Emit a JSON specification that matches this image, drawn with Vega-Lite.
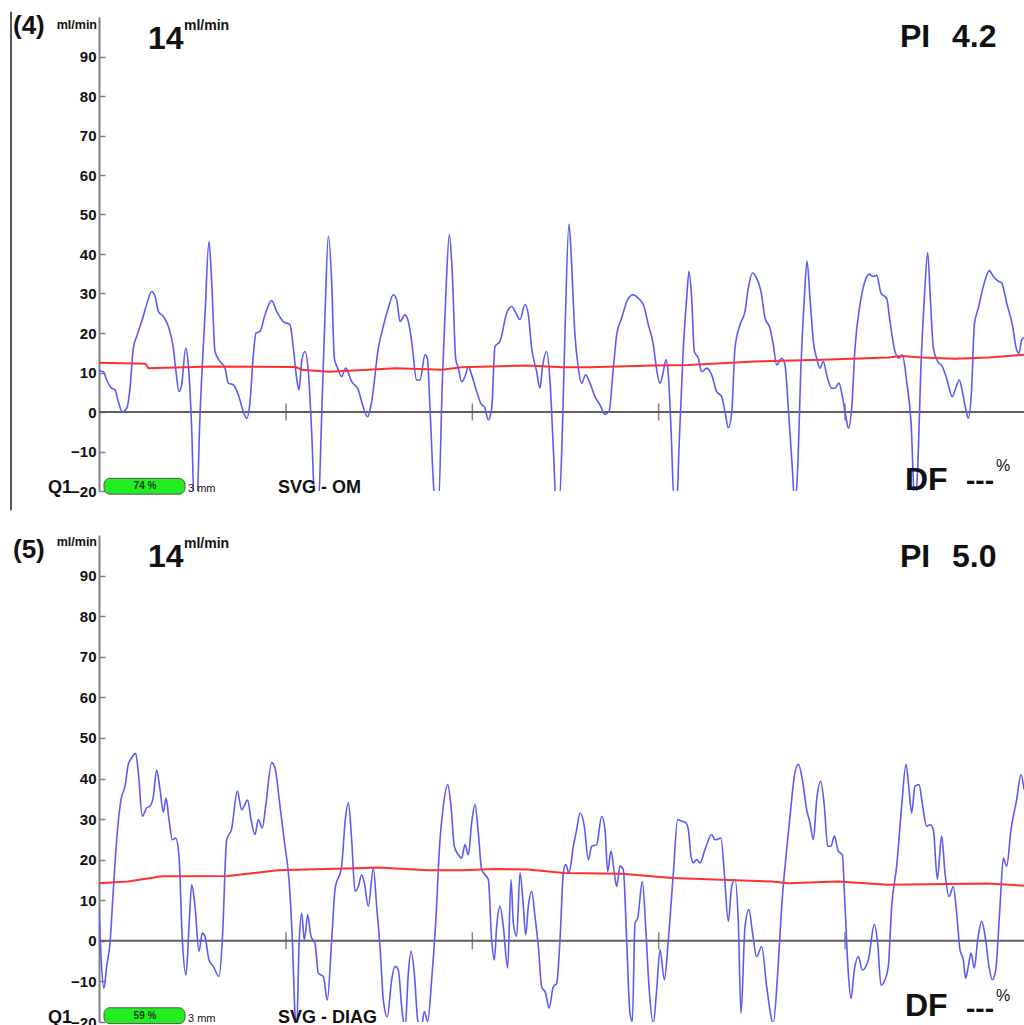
{
"$schema":"https://vega.github.io/schema/vega-lite/v6.json",
"padding":{"left":10,"top":11,"right":0,"bottom":0},
"spacing":23,
"config":{"view":{"stroke":null},"font":"Liberation Sans, Arial, sans-serif",
"axisY":{"domainColor":"#808080","domainWidth":2,"tickColor":"#808080","tickWidth":1.5,"tickSize":-6,"labelPadding":9,"labelFontSize":15,"labelFontWeight":"bold","labelColor":"#111111","grid":false,"labelFont":"Liberation Sans, Arial, sans-serif"}},
"datasets":{
"blue4":[{"t":0,"v":10.6},{"t":3,"v":10.4},{"t":13,"v":10.2},{"t":23,"v":8.1},{"t":38,"v":6.0},{"t":48,"v":5.6},{"t":58,"v":2.6},{"t":70,"v":0},{"t":83,"v":0.9},{"t":93,"v":6},{"t":103,"v":16.2},{"t":113,"v":19.1},{"t":128,"v":22.9},{"t":143,"v":27.2},{"t":158,"v":30.5},{"t":168,"v":29.3},{"t":178,"v":25.5},{"t":193,"v":24.2},{"t":208,"v":21.7},{"t":223,"v":16.2},{"t":231,"v":10.2},{"t":240,"v":5.2},{"t":248,"v":6.9},{"t":260,"v":16.2},{"t":268,"v":11.9},{"t":278,"v":-4.1},{"t":286,"v":-24},{"t":293,"v":-24},{"t":303,"v":-0.8},{"t":318,"v":24.6},{"t":330,"v":43.2},{"t":338,"v":33},{"t":348,"v":15.3},{"t":363,"v":12.8},{"t":378,"v":11.1},{"t":388,"v":7.3},{"t":403,"v":6.9},{"t":418,"v":4.3},{"t":433,"v":0.1},{"t":443,"v":-1.6},{"t":453,"v":2.6},{"t":463,"v":14.5},{"t":471,"v":20},{"t":483,"v":20.4},{"t":498,"v":24.6},{"t":518,"v":28.2},{"t":533,"v":25.5},{"t":553,"v":22.9},{"t":573,"v":22.1},{"t":583,"v":16.2},{"t":593,"v":8.5},{"t":600,"v":5.6},{"t":608,"v":12.8},{"t":618,"v":15.3},{"t":628,"v":10.2},{"t":638,"v":-5},{"t":648,"v":-24},{"t":658,"v":-24},{"t":668,"v":-0.8},{"t":678,"v":24.6},{"t":688,"v":44.5},{"t":698,"v":33},{"t":706,"v":13.6},{"t":716,"v":11.1},{"t":728,"v":9},{"t":740,"v":11.1},{"t":758,"v":7.7},{"t":778,"v":5.6},{"t":788,"v":2.6},{"t":806,"v":-1.2},{"t":818,"v":2.6},{"t":838,"v":16.2},{"t":853,"v":21.7},{"t":868,"v":26.3},{"t":883,"v":29.7},{"t":893,"v":28.4},{"t":903,"v":22.9},{"t":918,"v":24.6},{"t":928,"v":22.9},{"t":938,"v":17.9},{"t":953,"v":8.1},{"t":963,"v":8.1},{"t":978,"v":14.5},{"t":985,"v":13.6},{"t":993,"v":0.9},{"t":1003,"v":-17.7},{"t":1008,"v":-24},{"t":1018,"v":-24},{"t":1030,"v":7.7},{"t":1040,"v":28.8},{"t":1051,"v":44.9},{"t":1060,"v":34.8},{"t":1070,"v":13.6},{"t":1078,"v":11.1},{"t":1088,"v":7.7},{"t":1098,"v":9},{"t":1108,"v":11.5},{"t":1118,"v":9.4},{"t":1133,"v":5.2},{"t":1148,"v":1.8},{"t":1156,"v":1.4},{"t":1168,"v":-2},{"t":1178,"v":0.9},{"t":1188,"v":16.6},{"t":1203,"v":17.9},{"t":1223,"v":25},{"t":1238,"v":26.7},{"t":1248,"v":25.5},{"t":1263,"v":23.4},{"t":1278,"v":27.2},{"t":1288,"v":24.6},{"t":1298,"v":16.2},{"t":1313,"v":10.2},{"t":1323,"v":6},{"t":1330,"v":11.1},{"t":1343,"v":15.3},{"t":1353,"v":7.7},{"t":1363,"v":-9.2},{"t":1372,"v":-24},{"t":1380,"v":-24},{"t":1390,"v":-5},{"t":1398,"v":20.4},{"t":1410,"v":47.6},{"t":1418,"v":37.3},{"t":1426,"v":22.1},{"t":1438,"v":11.1},{"t":1448,"v":7.3},{"t":1460,"v":9.4},{"t":1473,"v":7.3},{"t":1488,"v":3.9},{"t":1503,"v":1.8},{"t":1518,"v":-0.6},{"t":1530,"v":0.1},{"t":1543,"v":11.1},{"t":1553,"v":19.5},{"t":1568,"v":23.8},{"t":1588,"v":28.8},{"t":1603,"v":29.7},{"t":1618,"v":28.8},{"t":1633,"v":27.2},{"t":1648,"v":22.1},{"t":1663,"v":17},{"t":1671,"v":11.9},{"t":1683,"v":7.3},{"t":1691,"v":9.4},{"t":1701,"v":13.2},{"t":1708,"v":9.4},{"t":1716,"v":-4.1},{"t":1726,"v":-24},{"t":1733,"v":-24},{"t":1740,"v":-9.2},{"t":1753,"v":16.2},{"t":1763,"v":28.8},{"t":1770,"v":35.6},{"t":1778,"v":28.8},{"t":1786,"v":15.3},{"t":1798,"v":13.6},{"t":1808,"v":10.2},{"t":1823,"v":11.1},{"t":1838,"v":9.4},{"t":1853,"v":5.2},{"t":1868,"v":3.9},{"t":1878,"v":0.1},{"t":1888,"v":-4},{"t":1898,"v":-0.3},{"t":1908,"v":16.2},{"t":1923,"v":22.1},{"t":1938,"v":25.5},{"t":1948,"v":31.4},{"t":1960,"v":35.2},{"t":1973,"v":33.9},{"t":1986,"v":30.5},{"t":1998,"v":23.8},{"t":2013,"v":21.2},{"t":2023,"v":17},{"t":2033,"v":11.9},{"t":2048,"v":13.6},{"t":2058,"v":11.9},{"t":2068,"v":0.9},{"t":2080,"v":-14.3},{"t":2088,"v":-24},{"t":2096,"v":-14.3},{"t":2106,"v":11.9},{"t":2116,"v":28.8},{"t":2124,"v":38.2},{"t":2133,"v":28.8},{"t":2143,"v":17.9},{"t":2153,"v":13.6},{"t":2163,"v":11.1},{"t":2173,"v":12.8},{"t":2183,"v":9.4},{"t":2198,"v":6},{"t":2208,"v":6},{"t":2220,"v":7.3},{"t":2230,"v":3.9},{"t":2240,"v":-0.8},{"t":2248,"v":-4.1},{"t":2258,"v":0.9},{"t":2268,"v":16.2},{"t":2283,"v":27.2},{"t":2298,"v":33.1},{"t":2310,"v":34.9},{"t":2323,"v":34.3},{"t":2333,"v":34.6},{"t":2346,"v":30.1},{"t":2363,"v":28.8},{"t":2373,"v":22.9},{"t":2388,"v":15.3},{"t":2400,"v":13.6},{"t":2410,"v":14.5},{"t":2423,"v":7.7},{"t":2436,"v":-2.5},{"t":2448,"v":-24},{"t":2456,"v":-14.3},{"t":2466,"v":11.9},{"t":2476,"v":28.8},{"t":2486,"v":40.3},{"t":2494,"v":28.8},{"t":2503,"v":16.2},{"t":2516,"v":12.8},{"t":2530,"v":11.5},{"t":2543,"v":8.5},{"t":2560,"v":3.9},{"t":2570,"v":6},{"t":2581,"v":8.1},{"t":2590,"v":5.2},{"t":2600,"v":0.9},{"t":2608,"v":-1.6},{"t":2618,"v":6},{"t":2626,"v":22.1},{"t":2638,"v":26.3},{"t":2653,"v":31.8},{"t":2671,"v":35.8},{"t":2683,"v":34.3},{"t":2698,"v":33.1},{"t":2708,"v":32.7},{"t":2723,"v":27.6},{"t":2740,"v":22.1},{"t":2753,"v":15.7},{"t":2760,"v":14.9},{"t":2768,"v":18.3},{"t":2775,"v":18.9}],
"red4":[{"t":0,"v":12.5},{"t":140,"v":12.2},{"t":148,"v":11.1},{"t":340,"v":11.5},{"t":590,"v":11.4},{"t":608,"v":10.7},{"t":690,"v":10.2},{"t":808,"v":10.7},{"t":888,"v":11.1},{"t":1028,"v":10.7},{"t":1088,"v":11.3},{"t":1288,"v":11.8},{"t":1388,"v":11.3},{"t":1468,"v":11.3},{"t":1668,"v":11.8},{"t":1768,"v":11.9},{"t":1968,"v":12.8},{"t":2168,"v":13.2},{"t":2368,"v":13.8},{"t":2408,"v":14.2},{"t":2468,"v":13.8},{"t":2568,"v":13.5},{"t":2668,"v":13.8},{"t":2775,"v":14.5}],
"blue5":[{"t":0,"v":8},{"t":6,"v":-3.9},{"t":15,"v":-11.7},{"t":23,"v":-6.3},{"t":33,"v":-0.6},{"t":43,"v":12.6},{"t":53,"v":24.9},{"t":66,"v":34.8},{"t":78,"v":38.1},{"t":88,"v":43.5},{"t":98,"v":45.1},{"t":110,"v":46.2},{"t":118,"v":41.4},{"t":130,"v":30.7},{"t":143,"v":32.8},{"t":153,"v":33.2},{"t":163,"v":35.6},{"t":173,"v":42.1},{"t":183,"v":37.3},{"t":193,"v":31.7},{"t":201,"v":35.2},{"t":210,"v":29.9},{"t":220,"v":24.9},{"t":230,"v":25.3},{"t":240,"v":20.8},{"t":250,"v":0.2},{"t":261,"v":-8.4},{"t":270,"v":3.5},{"t":278,"v":13.8},{"t":288,"v":8.5},{"t":300,"v":-2.6},{"t":310,"v":1.9},{"t":318,"v":1.1},{"t":330,"v":-4.7},{"t":343,"v":-6.3},{"t":360,"v":-8.8},{"t":370,"v":0.2},{"t":383,"v":24.9},{"t":398,"v":27.6},{"t":415,"v":36.9},{"t":428,"v":32.3},{"t":446,"v":34.7},{"t":456,"v":29.9},{"t":468,"v":26.2},{"t":478,"v":29.9},{"t":490,"v":27.8},{"t":500,"v":33.2},{"t":518,"v":43.9},{"t":528,"v":42.6},{"t":543,"v":33.2},{"t":558,"v":23.3},{"t":570,"v":15.1},{"t":580,"v":0.2},{"t":588,"v":-17.9},{"t":593,"v":-22},{"t":600,"v":-1.4},{"t":608,"v":6.8},{"t":616,"v":0.2},{"t":626,"v":6.4},{"t":636,"v":1.1},{"t":648,"v":-0.6},{"t":658,"v":-8},{"t":673,"v":-8.8},{"t":685,"v":-14.6},{"t":698,"v":0.2},{"t":708,"v":12.6},{"t":728,"v":18.4},{"t":738,"v":29.1},{"t":748,"v":34},{"t":758,"v":24.9},{"t":768,"v":12.2},{"t":778,"v":13.4},{"t":788,"v":16.3},{"t":796,"v":14.2},{"t":808,"v":8.5},{"t":823,"v":17.9},{"t":833,"v":8.5},{"t":843,"v":-1.4},{"t":853,"v":-14.6},{"t":865,"v":-18.7},{"t":878,"v":-9.6},{"t":888,"v":-6.3},{"t":898,"v":-7.2},{"t":908,"v":-16.2},{"t":918,"v":-22},{"t":928,"v":-8},{"t":936,"v":-2.6},{"t":946,"v":-8},{"t":956,"v":-19.5},{"t":966,"v":-22},{"t":976,"v":-17.4},{"t":986,"v":-19.9},{"t":998,"v":-9.6},{"t":1010,"v":4.4},{"t":1023,"v":24.9},{"t":1033,"v":33.2},{"t":1046,"v":38.5},{"t":1056,"v":33.2},{"t":1066,"v":23.3},{"t":1078,"v":21.2},{"t":1088,"v":20.4},{"t":1098,"v":23.7},{"t":1108,"v":21.2},{"t":1118,"v":29.1},{"t":1128,"v":33.6},{"t":1138,"v":26.6},{"t":1148,"v":17.5},{"t":1158,"v":16.3},{"t":1168,"v":15.1},{"t":1178,"v":0.2},{"t":1186,"v":-4.7},{"t":1193,"v":3.5},{"t":1203,"v":8.5},{"t":1213,"v":3.5},{"t":1226,"v":-6.7},{"t":1236,"v":15.1},{"t":1243,"v":4.4},{"t":1253,"v":1.1},{"t":1263,"v":16.7},{"t":1273,"v":8.5},{"t":1280,"v":1.5},{"t":1288,"v":8.5},{"t":1298,"v":12.2},{"t":1308,"v":6},{"t":1318,"v":-1.4},{"t":1328,"v":-11.3},{"t":1340,"v":-12.9},{"t":1350,"v":-16.6},{"t":1363,"v":-11.3},{"t":1373,"v":-10.5},{"t":1383,"v":0.2},{"t":1393,"v":16.7},{"t":1400,"v":18.8},{"t":1410,"v":16.7},{"t":1423,"v":23.3},{"t":1433,"v":27.4},{"t":1443,"v":31.5},{"t":1456,"v":28.2},{"t":1468,"v":20},{"t":1478,"v":23.3},{"t":1493,"v":23.7},{"t":1508,"v":30.7},{"t":1518,"v":27.4},{"t":1526,"v":17.1},{"t":1536,"v":22.1},{"t":1546,"v":16.7},{"t":1553,"v":13.4},{"t":1563,"v":18.4},{"t":1573,"v":17.5},{"t":1583,"v":0.2},{"t":1593,"v":-17.9},{"t":1600,"v":-19.9},{"t":1608,"v":4.4},{"t":1616,"v":5.6},{"t":1630,"v":14.6},{"t":1640,"v":3.5},{"t":1650,"v":-11.3},{"t":1663,"v":-20.3},{"t":1673,"v":-12.1},{"t":1683,"v":-2.2},{"t":1696,"v":-9.6},{"t":1708,"v":0.2},{"t":1723,"v":16.7},{"t":1736,"v":29.9},{"t":1748,"v":29.5},{"t":1760,"v":29.1},{"t":1768,"v":27.4},{"t":1776,"v":20.8},{"t":1783,"v":19.2},{"t":1793,"v":20},{"t":1803,"v":19.2},{"t":1818,"v":22.5},{"t":1838,"v":26.2},{"t":1848,"v":24.9},{"t":1866,"v":25.3},{"t":1876,"v":16.7},{"t":1888,"v":4.8},{"t":1898,"v":13.4},{"t":1908,"v":15.1},{"t":1918,"v":4.4},{"t":1926,"v":-17.9},{"t":1938,"v":3.5},{"t":1950,"v":7.7},{"t":1960,"v":2.3},{"t":1973,"v":-3.9},{"t":1988,"v":-1.4},{"t":2003,"v":-11.3},{"t":2023,"v":-20.3},{"t":2036,"v":-8},{"t":2048,"v":8.5},{"t":2063,"v":22.5},{"t":2076,"v":33.2},{"t":2086,"v":40.6},{"t":2098,"v":43.5},{"t":2110,"v":39.8},{"t":2123,"v":32.3},{"t":2133,"v":29.1},{"t":2143,"v":24.9},{"t":2153,"v":34.8},{"t":2165,"v":39.3},{"t":2176,"v":33.2},{"t":2186,"v":23.3},{"t":2196,"v":23.3},{"t":2206,"v":25.8},{"t":2218,"v":22.1},{"t":2230,"v":21.2},{"t":2238,"v":8.5},{"t":2248,"v":-8},{"t":2256,"v":-14.2},{"t":2266,"v":-7.2},{"t":2278,"v":-3.9},{"t":2290,"v":-7.2},{"t":2308,"v":-4.7},{"t":2326,"v":4},{"t":2336,"v":-0.6},{"t":2346,"v":-10.9},{"t":2358,"v":-9.6},{"t":2368,"v":-6.3},{"t":2378,"v":8.5},{"t":2393,"v":18.4},{"t":2408,"v":33.2},{"t":2421,"v":43.5},{"t":2430,"v":37.3},{"t":2438,"v":31.5},{"t":2448,"v":38.1},{"t":2460,"v":38.5},{"t":2471,"v":33.2},{"t":2483,"v":28.2},{"t":2493,"v":28.6},{"t":2503,"v":27.4},{"t":2515,"v":15.2},{"t":2528,"v":25.8},{"t":2538,"v":16.7},{"t":2550,"v":10.9},{"t":2563,"v":13.4},{"t":2573,"v":6.8},{"t":2583,"v":-2.2},{"t":2593,"v":-4.7},{"t":2600,"v":-9.2},{"t":2608,"v":-6.3},{"t":2616,"v":-3},{"t":2626,"v":-6.7},{"t":2636,"v":0.2},{"t":2648,"v":4.8},{"t":2660,"v":0.2},{"t":2670,"v":-6.3},{"t":2680,"v":-9.6},{"t":2690,"v":-7.2},{"t":2703,"v":8.5},{"t":2713,"v":20.4},{"t":2723,"v":18.4},{"t":2736,"v":27.4},{"t":2753,"v":34.8},{"t":2766,"v":41},{"t":2775,"v":37.3}],
"red5":[{"t":0,"v":14.2},{"t":87,"v":14.6},{"t":189,"v":15.9},{"t":387,"v":16},{"t":537,"v":17.4},{"t":768,"v":17.9},{"t":837,"v":18.1},{"t":987,"v":17.4},{"t":1089,"v":17.4},{"t":1188,"v":17.7},{"t":1287,"v":17.6},{"t":1395,"v":16.7},{"t":1569,"v":16.5},{"t":1719,"v":15.5},{"t":2019,"v":14.6},{"t":2067,"v":14.2},{"t":2217,"v":14.6},{"t":2367,"v":13.8},{"t":2667,"v":14.1},{"t":2775,"v":13.6}],
"ticks":[{"t":561,"v":0},{"t":1120,"v":0},{"t":1679,"v":0},{"t":2238,"v":0}],
"zero":[{"v":0}],
"frame4":[{"t":-264,"v":101.3,"v2":-24.9}],
"box4":[{"t":15,"t2":258,"v":-16.8,"v2":-20.8}],
"box5":[{"t":15,"t2":258,"v":-16.5,"v2":-20.4}],
"lab4":[{"kind":"paren","label":"(4)","t":-258,"v":95.7},{"kind":"unit","label":"ml/min","t":-6,"v":97},{"kind":"big","label":"14","t":147,"v":91.9},{"kind":"sup","label":"ml/min","t":255,"v":96.7},{"kind":"big","label":"PI","t":2403,"v":92.4},{"kind":"big","label":"4.2","t":2559,"v":92.4},{"kind":"q","label":"Q1","t":-153,"v":-20.6},{"kind":"badge","label":"74 %","t":138,"v":-18.8},{"kind":"mm","label":"3 mm","t":267,"v":-20.3},{"kind":"name","label":"SVG - OM","t":537,"v":-20.6},{"kind":"big","label":"DF","t":2418,"v":-19.8},{"kind":"dash","label":"---","t":2601,"v":-19.8},{"kind":"pct","label":"%","t":2691,"v":-15}],
"lab5":[{"kind":"paren","label":"(5)","t":-258,"v":94.3},{"kind":"unit","label":"ml/min","t":-6,"v":97.3},{"kind":"big","label":"14","t":147,"v":92.1},{"kind":"sup","label":"ml/min","t":255,"v":96.8},{"kind":"big","label":"PI","t":2403,"v":92.1},{"kind":"big","label":"5.0","t":2559,"v":92.1},{"kind":"q","label":"Q1","t":-153,"v":-20.2},{"kind":"badge","label":"59 %","t":138,"v":-18.5},{"kind":"mm","label":"3 mm","t":267,"v":-20},{"kind":"name","label":"SVG - DIAG","t":537,"v":-20.2},{"kind":"big","label":"DF","t":2418,"v":-18.5},{"kind":"dash","label":"---","t":2601,"v":-19},{"kind":"pct","label":"%","t":2691,"v":-14.8}]
},
"vconcat":[
{"width":925,"height":474,
"layer":[
{"data":{"name":"frame4"},"mark":{"type":"rule","color":"#222222","strokeWidth":1.5},"encoding":{"x":{"field":"t","type":"quantitative","scale":{"domain":[0,2775]},"axis":null},"y":{"field":"v","type":"quantitative","title":null,"scale":{"domain":[-20,100]},"axis":{"values":[-20,-10,0,10,20,30,40,50,60,70,80,90]}},"y2":{"field":"v2"}}},
{"data":{"name":"zero"},"mark":{"type":"rule","color":"#606060","strokeWidth":2},"encoding":{"y":{"field":"v","type":"quantitative","title":null,"scale":{"domain":[-20,100]},"axis":{"values":[-20,-10,0,10,20,30,40,50,60,70,80,90]}}}},
{"data":{"name":"ticks"},"mark":{"type":"tick","orient":"vertical","color":"#505050","size":17,"thickness":1.5},"encoding":{"x":{"field":"t","type":"quantitative","scale":{"domain":[0,2775]},"axis":null},"y":{"field":"v","type":"quantitative","title":null,"scale":{"domain":[-20,100]}}}},
{"data":{"name":"blue4"},"mark":{"type":"line","color":"#5c5cf5","strokeWidth":1.6,"interpolate":"monotone","clip":true},"encoding":{"x":{"field":"t","type":"quantitative","scale":{"domain":[0,2775]},"axis":null},"y":{"field":"v","type":"quantitative","title":null,"scale":{"domain":[-20,100]}}}},
{"data":{"name":"red4"},"mark":{"type":"line","color":"#ff3030","strokeWidth":2,"clip":true},"encoding":{"x":{"field":"t","type":"quantitative","scale":{"domain":[0,2775]},"axis":null},"y":{"field":"v","type":"quantitative","title":null,"scale":{"domain":[-20,100]}}}},
{"data":{"name":"box4"},"mark":{"type":"rect","fill":"#22ee22","stroke":"#555555","strokeWidth":1,"cornerRadius":6},"encoding":{"x":{"field":"t","type":"quantitative","scale":{"domain":[0,2775]},"axis":null},"x2":{"field":"t2"},"y":{"field":"v","type":"quantitative","title":null,"scale":{"domain":[-20,100]}},"y2":{"field":"v2"}}},
{"data":{"name":"lab4"},"transform":[{"filter":"datum.kind==='paren'"}],"mark":{"type":"text","align":"left","baseline":"alphabetic","fontSize":26,"fontWeight":"bold","color":"#111111"},"encoding":{"x":{"field":"t","type":"quantitative","scale":{"domain":[0,2775]},"axis":null},"y":{"field":"v","type":"quantitative","title":null,"scale":{"domain":[-20,100]}},"text":{"field":"label"}}},
{"data":{"name":"lab4"},"transform":[{"filter":"datum.kind==='unit'"}],"mark":{"type":"text","align":"right","baseline":"alphabetic","fontSize":12.5,"fontWeight":"bold","color":"#111111"},"encoding":{"x":{"field":"t","type":"quantitative","scale":{"domain":[0,2775]},"axis":null},"y":{"field":"v","type":"quantitative","title":null,"scale":{"domain":[-20,100]}},"text":{"field":"label"}}},
{"data":{"name":"lab4"},"transform":[{"filter":"datum.kind==='big'"}],"mark":{"type":"text","align":"left","baseline":"alphabetic","fontSize":32,"fontWeight":"bold","color":"#111111"},"encoding":{"x":{"field":"t","type":"quantitative","scale":{"domain":[0,2775]},"axis":null},"y":{"field":"v","type":"quantitative","title":null,"scale":{"domain":[-20,100]}},"text":{"field":"label"}}},
{"data":{"name":"lab4"},"transform":[{"filter":"datum.kind==='sup'"}],"mark":{"type":"text","align":"left","baseline":"alphabetic","fontSize":14,"fontWeight":"bold","color":"#111111"},"encoding":{"x":{"field":"t","type":"quantitative","scale":{"domain":[0,2775]},"axis":null},"y":{"field":"v","type":"quantitative","title":null,"scale":{"domain":[-20,100]}},"text":{"field":"label"}}},
{"data":{"name":"lab4"},"transform":[{"filter":"datum.kind==='q'"}],"mark":{"type":"text","align":"left","baseline":"alphabetic","fontSize":18,"fontWeight":"bold","color":"#111111"},"encoding":{"x":{"field":"t","type":"quantitative","scale":{"domain":[0,2775]},"axis":null},"y":{"field":"v","type":"quantitative","title":null,"scale":{"domain":[-20,100]}},"text":{"field":"label"}}},
{"data":{"name":"lab4"},"transform":[{"filter":"datum.kind==='badge'"}],"mark":{"type":"text","align":"center","baseline":"middle","fontSize":10,"fontWeight":"bold","color":"#1d3d1d"},"encoding":{"x":{"field":"t","type":"quantitative","scale":{"domain":[0,2775]},"axis":null},"y":{"field":"v","type":"quantitative","title":null,"scale":{"domain":[-20,100]}},"text":{"field":"label"}}},
{"data":{"name":"lab4"},"transform":[{"filter":"datum.kind==='mm'"}],"mark":{"type":"text","align":"left","baseline":"alphabetic","fontSize":11,"color":"#111111"},"encoding":{"x":{"field":"t","type":"quantitative","scale":{"domain":[0,2775]},"axis":null},"y":{"field":"v","type":"quantitative","title":null,"scale":{"domain":[-20,100]}},"text":{"field":"label"}}},
{"data":{"name":"lab4"},"transform":[{"filter":"datum.kind==='name'"}],"mark":{"type":"text","align":"left","baseline":"alphabetic","fontSize":18,"fontWeight":"bold","color":"#111111"},"encoding":{"x":{"field":"t","type":"quantitative","scale":{"domain":[0,2775]},"axis":null},"y":{"field":"v","type":"quantitative","title":null,"scale":{"domain":[-20,100]}},"text":{"field":"label"}}},
{"data":{"name":"lab4"},"transform":[{"filter":"datum.kind==='dash'"}],"mark":{"type":"text","align":"left","baseline":"alphabetic","fontSize":28,"fontWeight":"bold","color":"#111111"},"encoding":{"x":{"field":"t","type":"quantitative","scale":{"domain":[0,2775]},"axis":null},"y":{"field":"v","type":"quantitative","title":null,"scale":{"domain":[-20,100]}},"text":{"field":"label"}}},
{"data":{"name":"lab4"},"transform":[{"filter":"datum.kind==='pct'"}],"mark":{"type":"text","align":"left","baseline":"alphabetic","fontSize":16,"color":"#111111"},"encoding":{"x":{"field":"t","type":"quantitative","scale":{"domain":[0,2775]},"axis":null},"y":{"field":"v","type":"quantitative","title":null,"scale":{"domain":[-20,100]}},"text":{"field":"label"}}}
]},
{"width":925,"height":487,
"layer":[
{"data":{"name":"zero"},"mark":{"type":"rule","color":"#606060","strokeWidth":2},"encoding":{"y":{"field":"v","type":"quantitative","title":null,"scale":{"domain":[-20,100]},"axis":{"values":[-20,-10,0,10,20,30,40,50,60,70,80,90]}}}},
{"data":{"name":"ticks"},"mark":{"type":"tick","orient":"vertical","color":"#505050","size":17,"thickness":1.5},"encoding":{"x":{"field":"t","type":"quantitative","scale":{"domain":[0,2775]},"axis":null},"y":{"field":"v","type":"quantitative","title":null,"scale":{"domain":[-20,100]}}}},
{"data":{"name":"blue5"},"mark":{"type":"line","color":"#5c5cf5","strokeWidth":1.6,"interpolate":"monotone","clip":true},"encoding":{"x":{"field":"t","type":"quantitative","scale":{"domain":[0,2775]},"axis":null},"y":{"field":"v","type":"quantitative","title":null,"scale":{"domain":[-20,100]}}}},
{"data":{"name":"red5"},"mark":{"type":"line","color":"#ff3030","strokeWidth":2,"clip":true},"encoding":{"x":{"field":"t","type":"quantitative","scale":{"domain":[0,2775]},"axis":null},"y":{"field":"v","type":"quantitative","title":null,"scale":{"domain":[-20,100]}}}},
{"data":{"name":"box5"},"mark":{"type":"rect","fill":"#22ee22","stroke":"#555555","strokeWidth":1,"cornerRadius":6},"encoding":{"x":{"field":"t","type":"quantitative","scale":{"domain":[0,2775]},"axis":null},"x2":{"field":"t2"},"y":{"field":"v","type":"quantitative","title":null,"scale":{"domain":[-20,100]}},"y2":{"field":"v2"}}},
{"data":{"name":"lab5"},"transform":[{"filter":"datum.kind==='paren'"}],"mark":{"type":"text","align":"left","baseline":"alphabetic","fontSize":26,"fontWeight":"bold","color":"#111111"},"encoding":{"x":{"field":"t","type":"quantitative","scale":{"domain":[0,2775]},"axis":null},"y":{"field":"v","type":"quantitative","title":null,"scale":{"domain":[-20,100]}},"text":{"field":"label"}}},
{"data":{"name":"lab5"},"transform":[{"filter":"datum.kind==='unit'"}],"mark":{"type":"text","align":"right","baseline":"alphabetic","fontSize":12.5,"fontWeight":"bold","color":"#111111"},"encoding":{"x":{"field":"t","type":"quantitative","scale":{"domain":[0,2775]},"axis":null},"y":{"field":"v","type":"quantitative","title":null,"scale":{"domain":[-20,100]}},"text":{"field":"label"}}},
{"data":{"name":"lab5"},"transform":[{"filter":"datum.kind==='big'"}],"mark":{"type":"text","align":"left","baseline":"alphabetic","fontSize":32,"fontWeight":"bold","color":"#111111"},"encoding":{"x":{"field":"t","type":"quantitative","scale":{"domain":[0,2775]},"axis":null},"y":{"field":"v","type":"quantitative","title":null,"scale":{"domain":[-20,100]}},"text":{"field":"label"}}},
{"data":{"name":"lab5"},"transform":[{"filter":"datum.kind==='sup'"}],"mark":{"type":"text","align":"left","baseline":"alphabetic","fontSize":14,"fontWeight":"bold","color":"#111111"},"encoding":{"x":{"field":"t","type":"quantitative","scale":{"domain":[0,2775]},"axis":null},"y":{"field":"v","type":"quantitative","title":null,"scale":{"domain":[-20,100]}},"text":{"field":"label"}}},
{"data":{"name":"lab5"},"transform":[{"filter":"datum.kind==='q'"}],"mark":{"type":"text","align":"left","baseline":"alphabetic","fontSize":18,"fontWeight":"bold","color":"#111111"},"encoding":{"x":{"field":"t","type":"quantitative","scale":{"domain":[0,2775]},"axis":null},"y":{"field":"v","type":"quantitative","title":null,"scale":{"domain":[-20,100]}},"text":{"field":"label"}}},
{"data":{"name":"lab5"},"transform":[{"filter":"datum.kind==='badge'"}],"mark":{"type":"text","align":"center","baseline":"middle","fontSize":10,"fontWeight":"bold","color":"#1d3d1d"},"encoding":{"x":{"field":"t","type":"quantitative","scale":{"domain":[0,2775]},"axis":null},"y":{"field":"v","type":"quantitative","title":null,"scale":{"domain":[-20,100]}},"text":{"field":"label"}}},
{"data":{"name":"lab5"},"transform":[{"filter":"datum.kind==='mm'"}],"mark":{"type":"text","align":"left","baseline":"alphabetic","fontSize":11,"color":"#111111"},"encoding":{"x":{"field":"t","type":"quantitative","scale":{"domain":[0,2775]},"axis":null},"y":{"field":"v","type":"quantitative","title":null,"scale":{"domain":[-20,100]}},"text":{"field":"label"}}},
{"data":{"name":"lab5"},"transform":[{"filter":"datum.kind==='name'"}],"mark":{"type":"text","align":"left","baseline":"alphabetic","fontSize":18,"fontWeight":"bold","color":"#111111"},"encoding":{"x":{"field":"t","type":"quantitative","scale":{"domain":[0,2775]},"axis":null},"y":{"field":"v","type":"quantitative","title":null,"scale":{"domain":[-20,100]}},"text":{"field":"label"}}},
{"data":{"name":"lab5"},"transform":[{"filter":"datum.kind==='dash'"}],"mark":{"type":"text","align":"left","baseline":"alphabetic","fontSize":28,"fontWeight":"bold","color":"#111111"},"encoding":{"x":{"field":"t","type":"quantitative","scale":{"domain":[0,2775]},"axis":null},"y":{"field":"v","type":"quantitative","title":null,"scale":{"domain":[-20,100]}},"text":{"field":"label"}}},
{"data":{"name":"lab5"},"transform":[{"filter":"datum.kind==='pct'"}],"mark":{"type":"text","align":"left","baseline":"alphabetic","fontSize":16,"color":"#111111"},"encoding":{"x":{"field":"t","type":"quantitative","scale":{"domain":[0,2775]},"axis":null},"y":{"field":"v","type":"quantitative","title":null,"scale":{"domain":[-20,100]}},"text":{"field":"label"}}}
]}
]
}
